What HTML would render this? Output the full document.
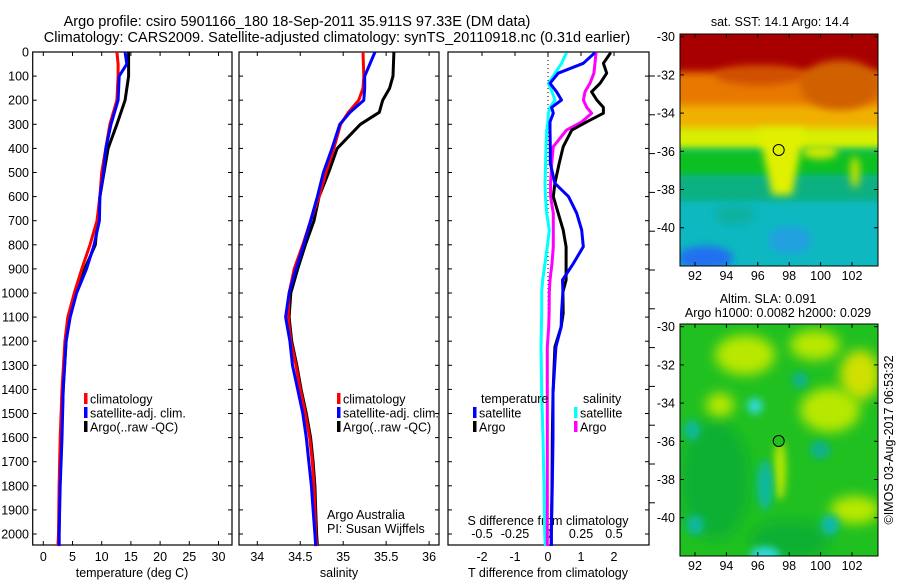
<!DOCTYPE html>
<html><head><meta charset="utf-8">
<style>
html,body{margin:0;padding:0;background:#fff;}
svg{display:block;font-family:"Liberation Sans",sans-serif;}
text{fill:#000;font-size:12.5px;}
</style></head>
<body>
<svg id="c" width="900" height="580" viewBox="0 0 900 580" xmlns="http://www.w3.org/2000/svg">
<defs>
<filter id="blur4" x="-100%" y="-100%" width="300%" height="300%"><feGaussianBlur stdDeviation="4"/></filter>
<filter id="blur6" x="-100%" y="-100%" width="300%" height="300%"><feGaussianBlur stdDeviation="6"/></filter>
<clipPath id="clipM1"><rect x="680" y="34" width="198" height="232"/></clipPath>
<clipPath id="clipM2"><rect x="680" y="324" width="198" height="232"/></clipPath>
</defs>
<text x="297" y="26" text-anchor="middle" style="font-size:14.5px">Argo profile: csiro 5901166_180 18-Sep-2011 35.911S 97.33E (DM data)</text>
<text x="337" y="42" text-anchor="middle" style="font-size:14.5px">Climatology: CARS2009. Satellite-adjusted climatology: synTS_20110918.nc (0.31d earlier)</text>

<!-- Map 1: SST -->
<g clip-path="url(#clipM1)">
<rect x="680" y="34" width="198" height="232" fill="#00b8b0"/>
<rect x="660" y="20" width="240" height="60" fill="#a80000"/>
<rect x="660" y="72" width="240" height="45" fill="#e87800" filter="url(#blur4)"/>
<rect x="660" y="105" width="240" height="32" fill="#f0b000" filter="url(#blur4)"/>
<rect x="660" y="128" width="240" height="22" fill="#d8f000" filter="url(#blur4)"/>
<rect x="660" y="150" width="240" height="28" fill="#10c020" filter="url(#blur4)"/>
<rect x="660" y="176" width="240" height="28" fill="#10b080" filter="url(#blur4)"/>
<rect x="660" y="202" width="240" height="80" fill="#10b8c0" filter="url(#blur4)"/>
<ellipse cx="705" cy="258" rx="28" ry="12" fill="#2070f0" filter="url(#blur4)"/>
<ellipse cx="790" cy="240" rx="22" ry="14" fill="#20a0e0" filter="url(#blur4)"/>
<ellipse cx="735" cy="215" rx="20" ry="10" fill="#10b0a0" filter="url(#blur4)"/>
<ellipse cx="840" cy="85" rx="40" ry="25" fill="#d06000" filter="url(#blur4)"/>
<ellipse cx="760" cy="75" rx="45" ry="10" fill="#d05000" filter="url(#blur4)"/>
<path d="M758 128 L805 128 L792 195 L772 195 Z" fill="#e0f000" filter="url(#blur4)"/>
<ellipse cx="820" cy="152" rx="18" ry="7" fill="#d0e800" filter="url(#blur4)"/>
<ellipse cx="855" cy="172" rx="5" ry="16" fill="#c0e000" filter="url(#blur4)"/>
</g>
<rect x="680" y="34" width="198" height="232" fill="none" stroke="#000"/>
<circle cx="778.7" cy="150" r="5.5" fill="none" stroke="#000"/>
<text x="780" y="26" text-anchor="middle">sat. SST: 14.1 Argo: 14.4</text>

<!-- Map 2: SLA -->
<g clip-path="url(#clipM2)">
<rect x="680" y="324" width="198" height="232" fill="#20c020"/>
<ellipse cx="715" cy="480" rx="35" ry="60" fill="#10b030" filter="url(#blur6)"/>
<ellipse cx="790" cy="540" rx="40" ry="20" fill="#10b030" filter="url(#blur6)"/>
<ellipse cx="745" cy="355" rx="30" ry="20" fill="#b8e800" filter="url(#blur6)"/>
<ellipse cx="720" cy="405" rx="14" ry="12" fill="#b8e800" filter="url(#blur6)"/>
<ellipse cx="815" cy="345" rx="25" ry="15" fill="#b8e800" filter="url(#blur6)"/>
<ellipse cx="860" cy="375" rx="20" ry="25" fill="#d0e000" filter="url(#blur6)"/>
<ellipse cx="830" cy="410" rx="30" ry="22" fill="#b8e800" filter="url(#blur6)"/>
<ellipse cx="855" cy="510" rx="25" ry="14" fill="#b8e800" filter="url(#blur6)"/>
<ellipse cx="780" cy="470" rx="6" ry="30" fill="#b8e800" filter="url(#blur4)"/>
<ellipse cx="755" cy="406" rx="8" ry="8" fill="#30d8d0" filter="url(#blur4)"/>
<ellipse cx="692" cy="430" rx="8" ry="10" fill="#10b8a0" filter="url(#blur4)"/>
<ellipse cx="765" cy="485" rx="8" ry="25" fill="#10b8a0" filter="url(#blur4)"/>
<ellipse cx="820" cy="450" rx="10" ry="9" fill="#10b090" filter="url(#blur4)"/>
<ellipse cx="830" cy="525" rx="9" ry="10" fill="#10b8b0" filter="url(#blur4)"/>
<ellipse cx="695" cy="525" rx="9" ry="10" fill="#10b8a0" filter="url(#blur4)"/>
<ellipse cx="765" cy="555" rx="15" ry="8" fill="#30d8e0" filter="url(#blur4)"/>
<ellipse cx="800" cy="380" rx="8" ry="8" fill="#10b090" filter="url(#blur4)"/>
</g>
<rect x="680" y="324" width="198" height="232" fill="none" stroke="#000"/>
<circle cx="778.7" cy="441" r="5.5" fill="#20c020" stroke="#000"/>
<text x="768" y="303" text-anchor="middle">Altim. SLA: 0.091</text>
<text x="778" y="317" text-anchor="middle">Argo h1000: 0.0082 h2000: 0.029</text>
<text transform="translate(893,440) rotate(-90)" text-anchor="middle">©IMOS 03-Aug-2017 06:53:32</text>

<g id="dyn"></g>
</svg>
<script>
// ---- data ----
const depthsT = [0,50,100,200,300,400,500,600,700,800,900,1000,1100,1200,1400,1600,1800,2000,2050];
const tempClim = [12.6,12.8,12.8,12.6,11.4,10.7,10.0,9.7,9.2,8.0,6.6,5.3,4.2,3.7,3.2,2.9,2.7,2.6,2.5];
const tempSat  = [14.0,14.3,13.0,12.8,11.6,10.7,10.3,9.7,9.6,8.7,7.4,5.7,4.6,3.9,3.4,3.2,2.9,2.7,2.7];
const tempArgo = [14.6,14.6,14.6,14.0,12.6,11.1,10.4,9.7,9.3,8.9,7.1,5.5,4.5,3.9,3.4,3.1,2.8,2.7,2.7];
const depthsS = [0,100,150,200,250,300,400,500,600,700,800,900,1000,1100,1200,1300,1400,1500,1600,1700,1800,1900,2000,2050];
const salClim = [35.23,35.24,35.23,35.18,35.06,34.97,34.89,34.80,34.72,34.62,34.53,34.43,34.37,34.36,34.39,34.45,34.50,34.56,34.61,34.64,34.66,34.67,34.68,34.69];
const salSat  = [35.37,35.25,35.25,35.24,35.08,34.96,34.87,34.77,34.70,34.62,34.54,34.45,34.37,34.33,34.38,34.41,34.47,34.53,34.57,34.60,34.63,34.65,34.67,34.68];
const salArgo = [35.59,35.58,35.54,35.46,35.42,35.20,34.93,34.83,34.72,34.66,34.56,34.47,34.39,34.37,34.40,34.46,34.51,34.57,34.62,34.65,34.67,34.68,34.69,34.70];
const depthsD = [3,47,88,130,165,199,230,254,290,324,393,462,545,600,669,739,808,877,946,996,1084,1140,1224,1415,1600,1800,2000,2050];
const dTsat  = [1.42,1.07,0.31,0.06,0.26,0.41,0.11,0.16,0.06,0.06,0.07,0.07,0.21,0.62,0.87,1.02,1.07,0.77,0.44,0.45,0.41,0.40,0.24,0.15,0.15,0.13,0.10,0.10];
const dTargo = [1.90,1.68,1.78,1.58,1.32,1.48,1.68,1.68,1.17,0.72,0.46,0.34,0.21,0.16,0.31,0.46,0.55,0.55,0.55,0.45,0.46,0.40,0.21,0.15,0.13,0.12,0.10,0.10];
const dSsat  = [0.14,0.103,0.053,0.003,0.03,0.053,0.015,0.003,0.0,-0.01,-0.015,-0.018,-0.023,-0.02,-0.01,0.01,-0.005,-0.023,-0.04,-0.048,-0.048,-0.05,-0.053,-0.048,-0.038,-0.03,-0.025,-0.02];
const dSargo = [0.364,0.356,0.348,0.318,0.280,0.268,0.293,0.331,0.255,0.14,0.04,0.028,0.02,0.02,0.04,0.04,0.04,0.03,0.015,0.01,0.008,0.005,-0.005,-0.005,-0.005,-0.005,-0.005,-0.005];
const depthTicks = [0,100,200,300,400,500,600,700,800,900,1000,1100,1200,1300,1400,1500,1600,1700,1800,1900,2000];
const tempTicks = [0,5,10,15,20,25,30];
const salTicks = ["34","34.5","35","35.5","36"];
const dTTicks = ["-2","-1","0","1","2"];
const dSTicks = ["-0.5","-0.25","0","0.25","0.5"];
const mapLonTicks = [92,94,96,98,100,102];
const mapLatTicks = [-30,-32,-34,-36,-38,-40];

// ---- axes ----
const TOP=52, BOT=545;
const yD = d => TOP + d*0.241;
const xT = t => 43.3 + t*5.84;
const xS = s => 257.3 + (s-34)*85.9;
const xDT = v => 548 + v*33;
const xDS = v => 548 + v*132;
const xLon = l => 695 + (l-92)*15.7;
const yLat1 = l => 36.7 + (-30-l)*19.1;
const yLat2 = l => 326.7 + (-30-l)*19.1;

const NS="http://www.w3.org/2000/svg";
const g=document.getElementById('dyn');
function mk(tag, attrs){const e=document.createElementNS(NS,tag);for(const k in attrs)e.setAttribute(k,attrs[k]);g.appendChild(e);return e;}
function txt(x,y,s,anchor){const e=mk('text',{x:x,y:y,'text-anchor':anchor||'middle'});e.textContent=s;return e;}

const panels=[[32.7,232],[239,439],[448,649]];
panels.forEach((p,i)=>{
  const r=mk('rect',{x:p[0],y:TOP,width:p[1]-p[0],height:BOT-TOP,fill:'none',stroke:'#000','stroke-width':1.2});
  
  
});
depthTicks.forEach(d=>{
  const y=yD(d);
  const l=txt(29,y+4.5,String(d),'end');
  
  
  panels.forEach(p=>{
    mk('line',{x1:p[0],x2:p[0]+4,y1:y,y2:y,stroke:'#000'});
    mk('line',{x1:p[1]-4,x2:p[1],y1:y,y2:y,stroke:'#000'});
  });
});
for(let y=76;y<=522;y+=38.8){mk('line',{x1:649,x2:655,y1:y,y2:y,stroke:'#000'});}
tempTicks.forEach(t=>{
  const x=xT(t);
  mk('line',{x1:x,x2:x,y1:TOP,y2:TOP+4,stroke:'#000'});
  mk('line',{x1:x,x2:x,y1:BOT-4,y2:BOT,stroke:'#000'});
  const l=txt(x,561,String(t));
  
  
});
salTicks.forEach(s=>{
  const x=xS(parseFloat(s));
  mk('line',{x1:x,x2:x,y1:TOP,y2:TOP+4,stroke:'#000'});
  mk('line',{x1:x,x2:x,y1:BOT-4,y2:BOT,stroke:'#000'});
  const l=txt(x,561,s);
  
  
});
dTTicks.forEach(s=>{
  const x=xDT(parseFloat(s));
  mk('line',{x1:x,x2:x,y1:TOP,y2:TOP+4,stroke:'#000'});
  const l=txt(x,561,s);
  
  
});
dSTicks.forEach(s=>{
  const x=xDS(parseFloat(s));
  const l=txt(x,538,s);
  
  
});
let a=txt(132,577,'temperature (deg C)');
a=txt(339,577,'salinity');
a=txt(548,577,'T difference from climatology');
a=txt(548,525,'S difference from climatology');
a=txt(327,519,'Argo Australia','start');
a=txt(327,533,'PI: Susan Wijffels','start');

a=mk('line',{x1:548,x2:548,y1:TOP,y2:BOT,stroke:'#000','stroke-dasharray':'1,3'});


function series(xs,ys,xf,color,name){
  const pts=xs.map((v,i)=>xf(v).toFixed(1)+','+yD(ys[i]).toFixed(1)).join(' ');
  const p=mk('polyline',{points:pts,fill:'none',stroke:color,'stroke-width':3,'stroke-linejoin':'round'});
  
  
}
series(tempArgo,depthsT,xT,'#000','temperature-argo-line');
series(tempClim,depthsT,xT,'#f00','temperature-climatology-line');
series(tempSat,depthsT,xT,'#00f','temperature-satellite-line');
series(salArgo,depthsS,xS,'#000','salinity-argo-line');
series(salClim,depthsS,xS,'#f00','salinity-climatology-line');
series(salSat,depthsS,xS,'#00f','salinity-satellite-line');
series(dSsat,depthsD,xDS,'#0ff','s-diff-satellite-line');
series(dSargo,depthsD,xDS,'#f0f','s-diff-argo-line');
series(dTargo,depthsD,xDT,'#000','t-diff-argo-line');
series(dTsat,depthsD,xDT,'#00f','t-diff-satellite-line');

function leg(x,y,color,label,name){
  const r=mk('rect',{x:x,y:y-6,width:3.5,height:11,fill:color});
  
  
  const t=txt(x+6,y+4.5,label,'start');
  
  
}
leg(84,399,'#f00','climatology','legend-temp-climatology');
leg(84,413,'#00f','satellite-adj. clim.','legend-temp-satellite');
leg(84,427,'#000','Argo(..raw -QC)','legend-temp-argo');
leg(337,399,'#f00','climatology','legend-sal-climatology');
leg(337,413,'#00f','satellite-adj. clim.','legend-sal-satellite');
leg(337,427,'#000','Argo(..raw -QC)','legend-sal-argo');
a=txt(481,403,'temperature','start');
a=txt(583,403,'salinity','start');
leg(473,413,'#00f','satellite','legend-diff-temp-satellite');
leg(473,427,'#000','Argo','legend-diff-temp-argo');
leg(574,413,'#0ff','satellite','legend-diff-sal-satellite');
leg(574,427,'#f0f','Argo','legend-diff-sal-argo');

[[yLat1,34,266,280],[yLat2,324,556,570]].forEach(m=>{
  mapLonTicks.forEach(l=>{
    const x=xLon(l);
    mk('line',{x1:x,x2:x,y1:m[1],y2:m[1]+4,stroke:'#000'});
    mk('line',{x1:x,x2:x,y1:m[2]-4,y2:m[2],stroke:'#000'});
    const t=txt(x,m[3],String(l));
    
    
  });
  mapLatTicks.forEach(l=>{
    const y=m[0](l);
    mk('line',{x1:680,x2:684,y1:y,y2:y,stroke:'#000'});
    mk('line',{x1:874,x2:878,y1:y,y2:y,stroke:'#000'});
    const t=txt(675,y+4.5,String(l),'end');
    
    
  });
});
</script>
</body></html>
